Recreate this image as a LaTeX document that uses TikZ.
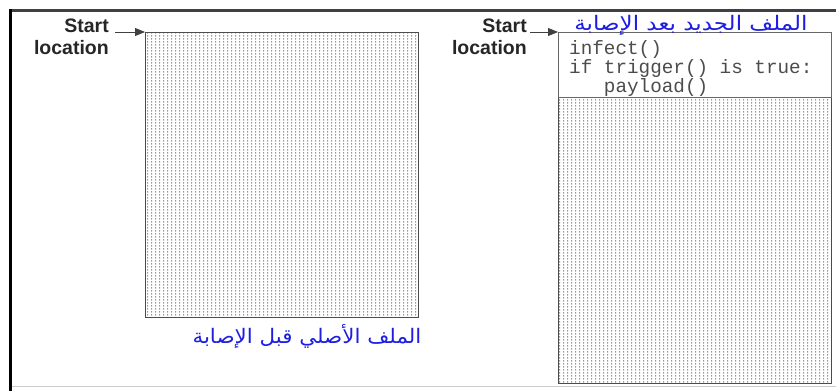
\documentclass[tikz,border=0pt]{standalone}
\usepackage{fontspec}
\setmainfont{Liberation Sans}
\newfontfamily\codefont{Liberation Mono}
\newfontfamily\arabicfont[Script=Arabic]{DejaVu Sans}
\TeXXeTstate=1
\usetikzlibrary{arrows.meta,positioning,patterns.meta}
\definecolor{titleblue}{RGB}{30,30,225}
\tikzdeclarepattern{
  name=fileDots,
  type=uncolored,
  bounding box={(0,0) and (4.2pt,2.8pt)},
  tile size={(4.2pt,2.8pt)},
  code={\fill (1.2pt,0.4pt) rectangle (2.4pt,2.0pt);}
}
\tikzset{
  filebox/.style={draw=black!70, line width=1.2pt, anchor=north west, minimum width=273pt, inner sep=0pt, pattern=fileDots, pattern color=black!40},
  codebox/.style={draw=black!60, line width=0.8pt, fill=white, anchor=north west, minimum width=273pt, minimum height=65pt, inner sep=0pt},
  codetext/.style={anchor=north west, align=left, inner sep=0pt, text=black!70, font=\codefont\fontsize{19.3}{19}\selectfont},
  startlabel/.style={anchor=north east, align=right, inner sep=0pt, text=black!85, font=\bfseries\fontsize{19.5}{22}\selectfont},
  arabiclabel/.style={anchor=base, inner sep=0pt, text=titleblue, font=\arabicfont\fontsize{20}{22}\selectfont},
  ptrarrow/.style={-{Triangle[length=10pt,width=8pt]}, line width=0.8pt, black!75}
}
\begin{document}
\begin{tikzpicture}[x=1pt,y=-1pt]
\useasboundingbox (0,0) rectangle (836,391);
% outer frame
\draw[black!20, line width=1pt] (10,386) -- (836,386);
\draw[black!75, line width=3pt] (10,10) -- (836,10);
\draw[black, line width=3pt] (10,9) -- (10,391);
% original file
\node[filebox, minimum height=285pt] (origfile) at (145,32) {};
\node[startlabel] (origstart) at (109,19) {Start\\location};
\coordinate (origtail) at (115,32);
\draw[ptrarrow] (origtail) -- (origfile.north west);
\node[arabiclabel] (origtitle) at (307,343) {\scalebox{1.07}[1]{\beginR الملف الأصلي قبل الإصابة\endR}};
% infected file
\node[filebox, minimum height=351pt] (newfile) at (558,32) {};
\node[codebox] (newcode) at (558,32) {};
\node[codetext] (newcodetext) at (569,40) {infect()\\if trigger() is true:\\\ \ \ payload()};
\node[startlabel] (newstart) at (527,19) {Start\\location};
\coordinate (newtail) at (530,32);
\draw[ptrarrow] (newtail) -- (newfile.north west);
\node[arabiclabel] (newtitle) at (691,30) {\scalebox{1.15}[1]{\beginR الملف الجديد بعد الإصابة\endR}};
\end{tikzpicture}
\end{document}
